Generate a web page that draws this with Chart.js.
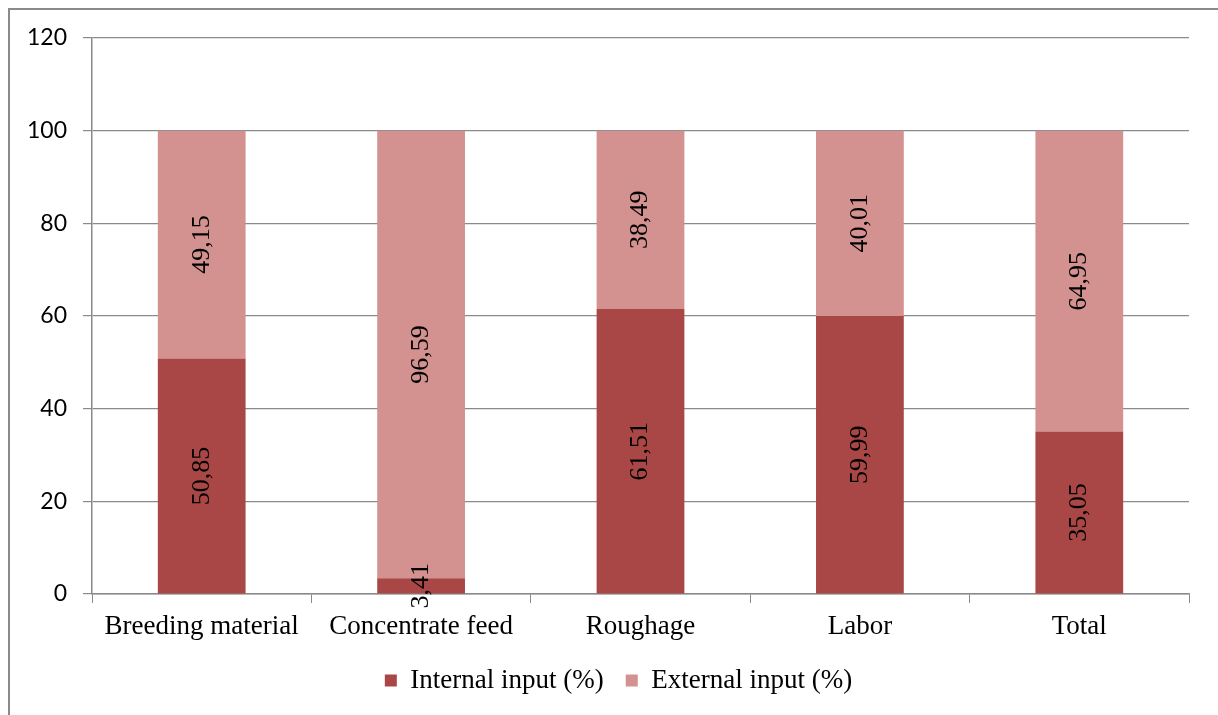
<!DOCTYPE html>
<html>
<head>
<meta charset="utf-8">
<script src="https://cdn.jsdelivr.net/npm/chart.js@4"></script>
<style>
  html, body { margin: 0; padding: 0; background: #fff; }
  #wrap { position: relative; width: 1218px; height: 715px; }
  #frame { position: absolute; left: 8px; top: 8px; width: 1220px; height: 720px;
           border-left: 2px solid #8a8a8a; border-top: 2px solid #8a8a8a; }
  canvas { position: absolute; left: 0; top: 0; }
</style>
</head>
<body>
<div id="wrap">
  <div id="frame"></div>
  <canvas id="myChart" width="1218" height="715"></canvas>
</div>
<script>
// datos
const categories = ["Breeding material", "Concentrate feed", "Roughage", "Labor", "Total"];
const internalInput = [50.85, 3.41, 61.51, 59.99, 35.05];
const externalInput = [49.15, 96.59, 38.49, 40.01, 64.95];
const yTicks = [0, 20, 40, 60, 80, 100, 120];

const serif = "'Liberation Serif', 'Times New Roman', serif";

// etiquetas giradas en el centro de cada segmento
const barLabels = {
  id: "barLabels",
  afterDatasetsDraw(chart) {
    const ctx = chart.ctx;
    ctx.save();
    ctx.font = "26px " + serif;
    ctx.fillStyle = "#000";
    ctx.textAlign = "center";
    ctx.textBaseline = "middle";
    chart.data.datasets.forEach((ds, i) => {
      const meta = chart.getDatasetMeta(i);
      meta.data.forEach((bar, j) => {
        const cy = (bar.y + bar.base) / 2;
        ctx.save();
        ctx.translate(bar.x, cy);
        ctx.rotate(-Math.PI / 2);
        ctx.fillText(ds.data[j].toFixed(2).replace(".", ","), 0, 0);
        ctx.restore();
      });
    });
    ctx.restore();
  }
};

// la leyenda del original esta un poco a la derecha
const legendShift = {
  id: "legendShift",
  afterLayout(chart) {
    if (chart.legend) chart.legend.left += 48;
  }
};

const ctx = document.getElementById("myChart").getContext("2d");
const myChart = new Chart(ctx, {
  type: "bar",
  data: {
    labels: categories,
    datasets: [
      {
        label: "Internal input (%)",
        data: internalInput,
        backgroundColor: "#a84745",
        categoryPercentage: 1,
        barPercentage: 0.4,
      },
      {
        label: "External input (%)",
        data: externalInput,
        backgroundColor: "#d39190",
        categoryPercentage: 1,
        barPercentage: 0.4,
      },
    ],
  },
  options: {
    responsive: false,
    animation: false,
    layout: { padding: { left: 0, right: 29, top: 38, bottom: 11 } },
    plugins: {
      tooltip: { enabled: false },
      legend: {
        position: "bottom",
        labels: {
          boxWidth: 12,
          boxHeight: 12,
          padding: 22,
          color: "#000",
          font: { family: serif, size: 27 },
        },
      },
    },
    scales: {
      x: {
        stacked: true,
        offset: true,
        grid: {
          offset: true,
          drawOnChartArea: false,
          drawTicks: true,
          tickLength: 9,
          color: "#8a8a8a",
        },
        border: { color: "#8a8a8a", width: 1.5 },
        ticks: {
          color: "#000",
          padding: 8,
          maxRotation: 0,
          font: { family: serif, size: 27 },
        },
        afterFit(scale) { scale.height = 51; },
      },
      y: {
        stacked: true,
        min: 0,
        max: 120,
        afterBuildTicks(scale) { scale.ticks = yTicks.map((v) => ({ value: v })); },
        grid: { color: "#8a8a8a", lineWidth: 1.2, tickLength: 9 },
        border: { color: "#8a8a8a", width: 1.5 },
        ticks: {
          color: "#000",
          padding: 16,
          font: { family: "Lato", size: 23 },
        },
        afterFit(scale) { scale.width = 92; },
      },
    },
  },
  plugins: [barLabels, legendShift],
});
</script>
</body>
</html>
